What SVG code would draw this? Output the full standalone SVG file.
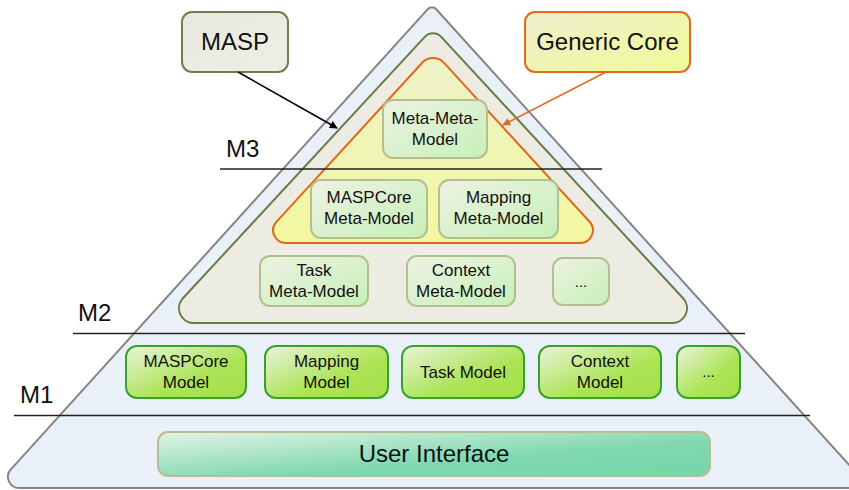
<svg xmlns="http://www.w3.org/2000/svg" width="849" height="490" viewBox="0 0 849 490">
<style>
text{font-family:"Liberation Sans",Arial,sans-serif;fill:#111;text-anchor:middle}
.mm{fill:url(#gMeta);stroke:#b3bf8e;stroke-width:2}
.m1{fill:url(#gModel);stroke:#38a22e;stroke-width:2}
.t16{font-size:17px}
.t15{font-size:15px}
.lvl{font-size:24px;text-anchor:start}
.big{font-size:24px}
.sep{stroke:#222;stroke-width:1.5}
</style>
<defs>
<linearGradient id="gMeta" x1="0" y1="0" x2="1" y2="1">
<stop offset="0" stop-color="#eef2e2"/><stop offset="1" stop-color="#c6f0b8"/>
</linearGradient>
<linearGradient id="gModel" x1="0" y1="0" x2="1" y2="1">
<stop offset="0" stop-color="#eaf3dc"/><stop offset="0.6" stop-color="#ace456"/><stop offset="1" stop-color="#a4e048"/>
</linearGradient>
<linearGradient id="gUI" x1="0" y1="0" x2="1" y2="1">
<stop offset="0" stop-color="#e4f4e6"/><stop offset="0.6" stop-color="#80d8b0"/><stop offset="1" stop-color="#76d6aa"/>
</linearGradient>
<linearGradient id="gCore" x1="0" y1="0" x2="1" y2="1">
<stop offset="0" stop-color="#eeeecc"/><stop offset="1" stop-color="#f0fa98"/>
</linearGradient>
<linearGradient id="gMasp" x1="0" y1="0" x2="1" y2="1">
<stop offset="0" stop-color="#e8e8e2"/><stop offset="1" stop-color="#eeeee4"/>
</linearGradient>
<linearGradient id="gOrange" x1="0" y1="0" x2="0" y2="1">
<stop offset="0" stop-color="#eef2c8"/><stop offset="1" stop-color="#f2f8a0"/>
</linearGradient>
<marker id="arrBlack" viewBox="0 0 10 10" refX="9" refY="5" markerWidth="8" markerHeight="8" markerUnits="userSpaceOnUse" orient="auto">
<path d="M0,0 L10,5 L0,10 z" fill="#000"/>
</marker>
<marker id="arrOrange" viewBox="0 0 10 10" refX="9" refY="5" markerWidth="8" markerHeight="8" markerUnits="userSpaceOnUse" orient="auto">
<path d="M0,0 L10,5 L0,10 z" fill="#e06a1a"/>
</marker>
</defs>

<g id="pyramid">
<path d="M427.8,9.2 A5.7,5.7 0 0 1 436.2,9.2 L870,488 L19.5,488 A11.2,11.2 0 0 1 11.1,469.1 Z" fill="#eaf0f8" stroke="#858585" stroke-width="2"/>
</g>
<g id="masp-region">
<path d="M424.8,36.9 A11.2,11.2 0 0 1 441.2,36.9 L683.1,298.3 A14.7,14.7 0 0 1 672.3,323 L193.7,323 A14.7,14.7 0 0 1 182.9,298.3 Z" fill="#ecece2" stroke="#6b7a45" stroke-width="2"/>
</g>
<g id="core-region">
<path d="M422.2,62.7 A14.6,14.6 0 0 1 443.8,62.7 L589.6,221.8 A12.7,12.7 0 0 1 580.3,243 L285.7,243 A12.7,12.7 0 0 1 276.4,221.8 Z" fill="url(#gOrange)" stroke="#e06a1a" stroke-width="2"/>
</g>

<g id="separators">
<line class="sep" x1="220" y1="169" x2="602" y2="169"/>
<line class="sep" x1="73" y1="333.5" x2="745" y2="333.5"/>
<line class="sep" x1="14" y1="415.5" x2="810" y2="415.5"/>
<text class="lvl" x="226" y="157">M3</text>
<text class="lvl" x="78" y="321">M2</text>
<text class="lvl" x="20" y="403">M1</text>
</g>

<g id="masp">
<rect x="182" y="12" width="106" height="60" rx="10" fill="url(#gMasp)" stroke="#6f7f4c" stroke-width="2"/>
<text class="big" x="235" y="50">MASP</text>
</g>
<g id="generic-core">
<rect x="525" y="12" width="165" height="60" rx="10" fill="url(#gCore)" stroke="#e06a1a" stroke-width="2"/>
<text class="big" x="607.5" y="50">Generic Core</text>
</g>

<g id="connectors">
<line x1="238" y1="72" x2="337" y2="128" stroke="#000" stroke-width="1.6" marker-end="url(#arrBlack)"/>
<line x1="606" y1="72" x2="503" y2="125" stroke="#e06a1a" stroke-width="1.6" marker-end="url(#arrOrange)"/>
</g>

<g id="meta-meta-model">
<rect class="mm" x="383" y="100" width="104" height="58" rx="10"/>
<text class="t16" x="435" y="124">Meta-Meta-</text>
<text class="t16" x="435" y="145">Model</text>
</g>
<g id="maspcore-meta-model">
<rect class="mm" x="311" y="180" width="116" height="58" rx="10"/>
<text class="t16" x="369" y="203">MASPCore</text>
<text class="t16" x="369" y="224">Meta-Model</text>
</g>
<g id="mapping-meta-model">
<rect class="mm" x="439" y="180" width="119" height="58" rx="10"/>
<text class="t16" x="498.5" y="203">Mapping</text>
<text class="t16" x="498.5" y="224">Meta-Model</text>
</g>
<g id="task-meta-model">
<rect class="mm" x="260" y="256" width="108" height="50" rx="10"/>
<text class="t16" x="314" y="276">Task</text>
<text class="t16" x="314" y="297">Meta-Model</text>
</g>
<g id="context-meta-model">
<rect class="mm" x="407" y="256" width="108" height="50" rx="10"/>
<text class="t16" x="461" y="276">Context</text>
<text class="t16" x="461" y="297">Meta-Model</text>
</g>
<g id="more-meta-model">
<rect class="mm" x="553" y="258" width="56" height="47" rx="10"/>
<text class="t15" x="581" y="287">...</text>
</g>

<g id="maspcore-model">
<rect class="m1" x="126" y="346" width="120" height="52" rx="11"/>
<text class="t16" x="186" y="367">MASPCore</text>
<text class="t16" x="186" y="388">Model</text>
</g>
<g id="mapping-model">
<rect class="m1" x="265" y="346" width="123" height="52" rx="11"/>
<text class="t16" x="326.5" y="367">Mapping</text>
<text class="t16" x="326.5" y="388">Model</text>
</g>
<g id="task-model">
<rect class="m1" x="402" y="346" width="122" height="52" rx="11"/>
<text class="t16" x="463" y="378">Task Model</text>
</g>
<g id="context-model">
<rect class="m1" x="539" y="346" width="122" height="52" rx="11"/>
<text class="t16" x="600" y="367">Context</text>
<text class="t16" x="600" y="388">Model</text>
</g>
<g id="more-model">
<rect class="m1" x="677" y="346" width="63" height="52" rx="11"/>
<text class="t15" x="708.5" y="377">...</text>
</g>

<g id="user-interface">
<rect x="158" y="432" width="552" height="44" rx="10" fill="url(#gUI)" stroke="#bcbc94" stroke-width="2"/>
<text class="big" x="434" y="462">User Interface</text>
</g>
</svg>
